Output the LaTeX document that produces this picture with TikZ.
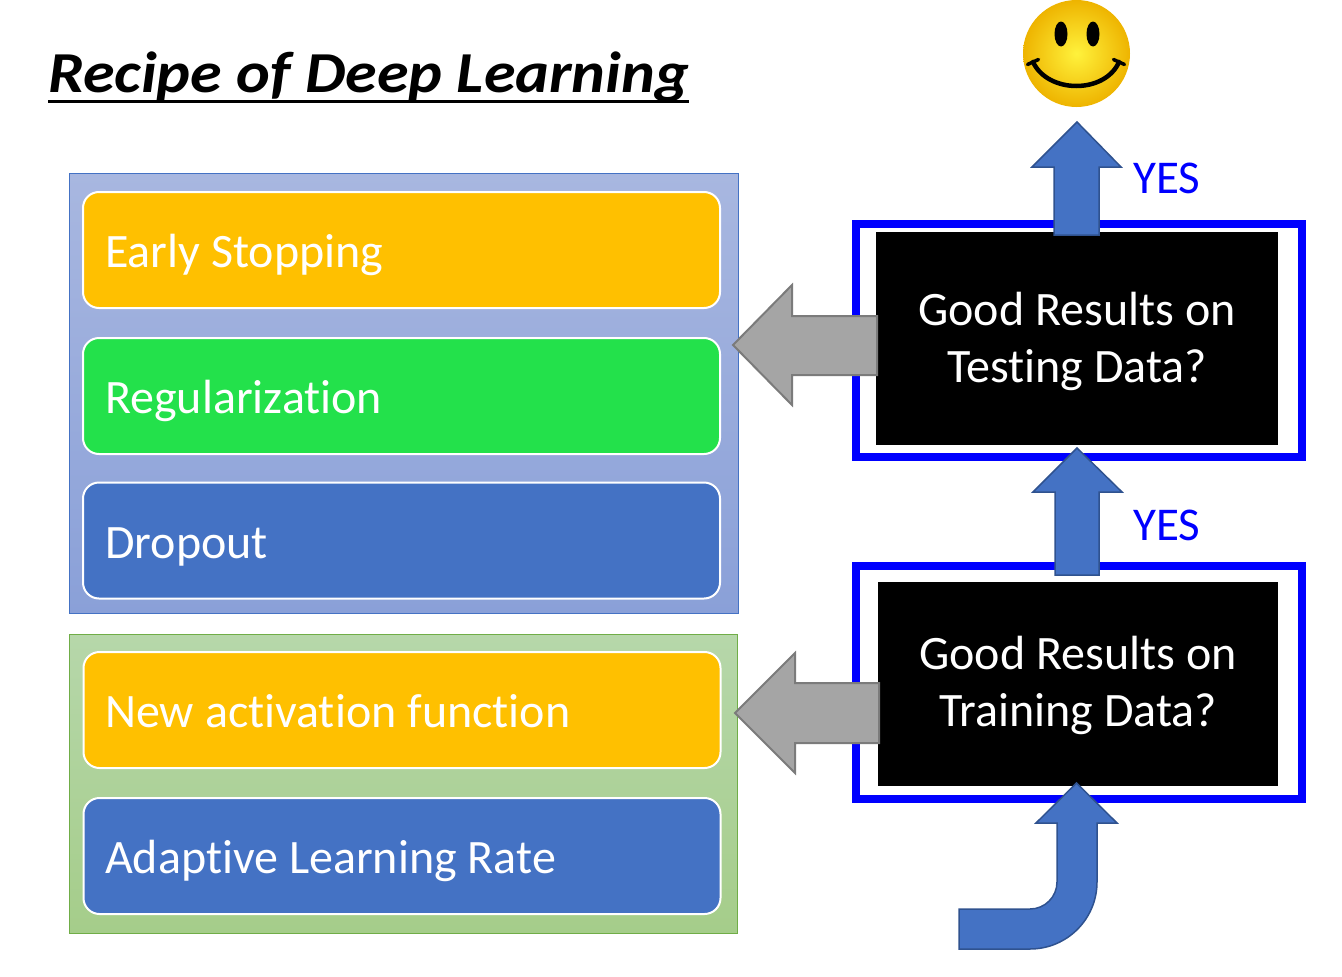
\documentclass[tikz,border=0pt]{standalone}
\usepackage{fontspec}
\setmainfont{Carlito}[Ligatures=NoCommon]
\usetikzlibrary{calc}
\definecolor{ycol}{HTML}{FFC000}
\definecolor{gcol}{RGB}{35,225,75}
\definecolor{bcol}{HTML}{4472C4}
\definecolor{bdark}{HTML}{2F528F}
\definecolor{grayfill}{HTML}{A5A5A5}
\definecolor{grayline}{HTML}{7B7B7B}
\definecolor{panelbtop}{RGB}{168,183,224}
\definecolor{panelbbot}{RGB}{138,160,216}
\definecolor{panelgtop}{RGB}{182,215,170}
\definecolor{panelgbot}{RGB}{165,205,138}
\definecolor{pureblue}{RGB}{0,0,255}
\tikzset{
  itembox/.style={draw=white, line width=2pt, rounded corners=16pt, inner sep=0pt, outer sep=0pt, minimum width=637pt, minimum height=116pt},
  itemtext/.style={anchor=base west, text=white, inner sep=0pt, font=\fontsize{48}{57}\selectfont},
  frame/.style={draw=pureblue, line width=8pt, inner sep=0pt, minimum width=446pt, minimum height=233pt},
  blackbox/.style={fill=black, inner sep=0pt},
  qtext/.style={text=white, align=center, inner sep=0pt, font=\fontsize{48}{57}\selectfont},
  yestext/.style={anchor=base west, text=pureblue, inner sep=0pt, font=\fontsize{47}{56}\selectfont},
  bluearrow/.style={fill=bcol, draw=bdark, line width=1.5pt, line join=miter},
  grayarrow/.style={fill=grayfill, draw=grayline, line width=2pt, line join=miter},
}
\begin{document}
\begin{tikzpicture}[x=1pt,y=-1pt]
\useasboundingbox (0,0) rectangle (1342,977);
% panels
\node[draw=bcol, line width=1pt, top color=panelbtop, bottom color=panelbbot, inner sep=0pt, minimum width=669pt, minimum height=440pt] (panelA) at (403.5,393.5) {};
\node[draw={rgb,255:red,112;green,173;blue,71}, line width=1pt, top color=panelgtop, bottom color=panelgbot, inner sep=0pt, minimum width=668pt, minimum height=299pt] (panelB) at (403,783.5) {};
% item boxes
\node[itembox, fill=ycol] (es) at (401.5,250) {};
\node[itemtext] (es-t) at (105,267) {Early Stopping};
\node[itembox, fill=gcol] (reg) at (401.5,396) {};
\node[itemtext] (reg-t) at (105,413) {Regularization};
\node[itembox, fill=bcol] (drop) at (401.5,540.5) {};
\node[itemtext] (drop-t) at (105,558) {Dropout};
\node[itembox, fill=ycol] (act) at (402,710) {};
\node[itemtext] (act-t) at (105,727) {New activation function};
\node[itembox, fill=bcol] (alr) at (402,856) {};
\node[itemtext] (alr-t) at (105,873) {Adaptive Learning Rate};
% frames and questions
\node[frame] (ftest) at (1079,340.5) {};
\node[frame] (ftrain) at (1079,682.5) {};
\node[blackbox, minimum width=402pt, minimum height=213pt] (qtest) at (1077,338.5) {};
\node[qtext] (qtest-t) at ($(qtest.center)+(0,3)$) {Good Results on\\Testing Data?};
\node[blackbox, minimum width=400pt, minimum height=204pt] (qtrain) at (1078,683.5) {};
\node[qtext] (qtrain-t) at ($(qtrain.center)+(0,2)$) {Good Results on\\Training Data?};
% YES labels
\node[yestext] (yes1) at (1133,193) {YES};
\node[yestext] (yes2) at (1133,540) {YES};
% title
\node[anchor=base west, inner sep=0pt, font=\fontsize{58}{70}\selectfont\bfseries\itshape] (title) at (48,92) {\scalebox{1.105}[1]{Recipe of Deep Learning}};
\draw[line width=3pt] ($(title.base west)+(0,9.5)$) -- ($(title.base east)+(0,9.5)$);
% smiley
\shade[inner color={rgb,255:red,255;green,242;blue,60}, outer color={rgb,255:red,238;green,180;blue,0}] (1076.5,53.5) circle[radius=53.5pt];
\fill (1061,34) ellipse[x radius=6.5pt, y radius=12.5pt];
\fill (1093,34) ellipse[x radius=6.5pt, y radius=12.5pt];
\draw[line width=4.5pt, line cap=round] (1033,62) .. controls (1048,94) and (1105,94) .. (1119,62);
\draw[line width=3.5pt, line cap=round] (1027.5,64.5) -- (1038.5,59.5);
\draw[line width=3.5pt, line cap=round] (1124.5,64.5) -- (1113.5,59.5);
% blue up arrows
\draw[bluearrow] (1054,235) -- (1054,167) -- (1032,167) -- (1077,122) -- (1121,167) -- (1099,167) -- (1099,235) -- cycle;
\draw[bluearrow] (1055,575) -- (1055,492) -- (1033,492) -- (1077,448) -- (1122,492) -- (1099,492) -- (1099,575) -- cycle;
\draw[bluearrow] (959,909) -- (1030,909) .. controls (1044.9,909) and (1057,896.9) .. (1057,882) -- (1057,823) -- (1036,823) -- (1076.5,783) -- (1117,823) -- (1097,823) -- (1097,882) .. controls (1097,919) and (1067,949) .. (1030,949) -- (959,949) -- cycle;
% gray left arrows
\draw[grayarrow] (877,316) -- (792,316) -- (792,285) -- (733,345) -- (792,405) -- (792,375) -- (877,375) -- cycle;
\draw[grayarrow] (879,683) -- (795,683) -- (795,653) -- (735,713) -- (795,773) -- (795,743) -- (879,743) -- cycle;
\end{tikzpicture}
\end{document}
